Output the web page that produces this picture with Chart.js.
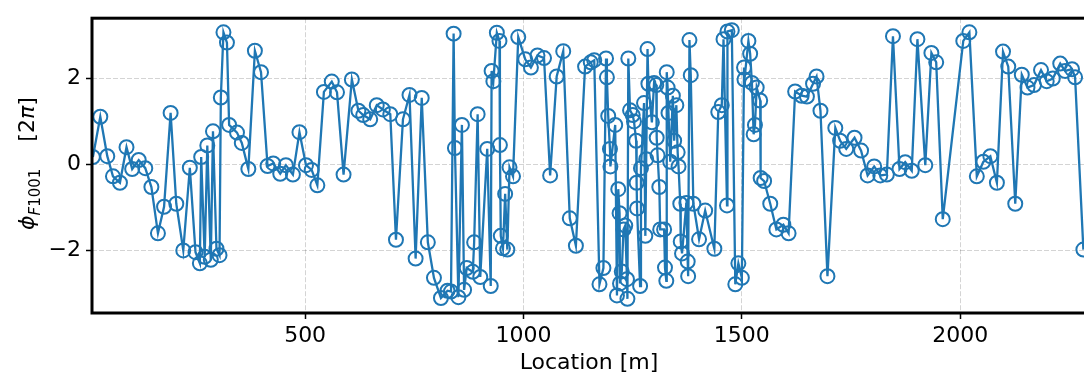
<!DOCTYPE html>
<html>
<head>
<meta charset="utf-8">
<script src="https://cdn.jsdelivr.net/npm/chart.js@4/dist/chart.umd.min.js"></script>
<style>
  html, body { margin: 0; padding: 0; background: #fff; overflow: hidden; }
  #wrap { width: 1100px; height: 376px; }
</style>
</head>
<body>
<div id="wrap"><canvas id="grafico" width="1100" height="376"></canvas></div>
<script>
// location along the line [m]
const locations = [
  14, 31, 47, 60, 76, 91, 104, 119, 134, 148, 163, 177, 192, 205, 221, 236, 249, 259, 262, 270,
  276, 284, 289, 297, 304, 307, 313, 321, 326, 344, 355, 370, 385, 399, 414, 427, 443, 456, 472, 487,
  502, 515, 528, 543, 561, 573, 588, 607, 622, 633, 649, 664, 678, 695, 708, 724, 739, 753, 767, 781,
  795, 811, 826, 834, 840, 843, 851, 859, 864, 870, 884, 887, 895, 901, 917, 925, 927, 931, 939, 945,
  946, 948, 953, 958, 963, 968, 976, 988, 1004, 1017, 1032, 1047, 1061, 1076, 1091, 1106, 1120, 1141, 1154, 1162,
  1174, 1183, 1189, 1191, 1194, 1198, 1199, 1210, 1214, 1217, 1220, 1221, 1225, 1229, 1233, 1237, 1238, 1240, 1244, 1250,
  1253, 1258, 1259, 1260, 1267, 1269, 1276, 1279, 1281, 1284, 1286, 1294, 1299, 1304, 1305, 1307, 1311, 1313, 1322, 1324,
  1327, 1328, 1330, 1332, 1336, 1342, 1345, 1350, 1353, 1355, 1359, 1360, 1363, 1373, 1376, 1377, 1380, 1383, 1389, 1402,
  1416, 1437, 1446, 1454, 1458, 1466, 1467, 1477, 1485, 1492, 1500, 1505, 1506, 1515, 1519, 1523, 1527, 1530, 1534, 1542,
  1543, 1551, 1565, 1579, 1595, 1607, 1622, 1637, 1649, 1663, 1671, 1680, 1696, 1714, 1725, 1739, 1758, 1773, 1788, 1803,
  1817, 1832, 1846, 1861, 1874, 1889, 1902, 1920, 1934, 1945, 1960, 2007, 2021, 2038, 2053, 2069, 2084, 2098, 2110, 2126,
  2141, 2154, 2169, 2185, 2198, 2212, 2229, 2240, 2256, 2263, 2282
];

// phase of f1001 [2pi]
const phases = [
  0.17, 1.11, 0.19, -0.28, -0.43, 0.40, -0.11, 0.10, -0.09, -0.53, -1.61, -0.99, 1.20, -0.92, -2.01, -0.08, -2.05, -2.31, 0.17, -2.16,
  0.44, -2.23, 0.77, -1.97, -2.12, 1.56, 3.08, 2.84, 0.92, 0.74, 0.50, -0.11, 2.65, 2.15, -0.04, 0.02, -0.22, -0.02, -0.24, 0.75,
  -0.02, -0.13, -0.49, 1.69, 1.93, 1.68, -0.24, 1.98, 1.25, 1.15, 1.05, 1.38, 1.28, 1.17, -1.76, 1.05, 1.62, -2.20, 1.55, -1.82,
  -2.65, -3.12, -2.95, -2.97, 3.05, 0.38, -3.10, 0.92, -2.93, -2.42, -2.51, -1.82, 1.17, -2.63, 0.36, -2.84, 2.18, 1.94, 3.07, 2.88,
  0.45, -1.67, -1.96, -0.69, -1.99, -0.07, -0.28, 2.97, 2.45, 2.26, 2.54, 2.48, -0.26, 2.05, 2.64, -1.26, -1.90, 2.28, 2.38, 2.43,
  -2.80, -2.42, 2.47, 2.03, 1.13, 0.36, -0.05, 0.92, -3.06, -0.58, -1.14, -2.78, -2.50, -1.52, -1.43, -2.68, -3.14, 2.47, 1.26, 1.15,
  1.00, 0.55, -0.43, -1.03, -2.84, -0.09, 1.43, -1.67, 0.12, 2.69, 1.88, 0.98, 1.90, 1.85, 0.62, 0.21, -0.53, -1.52, -1.52, -2.41,
  -2.72, 2.15, 1.79, 1.20, 0.06, 1.60, 0.55, 1.38, 0.28, -0.05, -0.92, -1.80, -2.08, -0.90, -2.27, -2.61, 2.90, 2.08, -0.92, -1.75,
  -1.08, -1.97, 1.22, 1.38, 2.92, -0.96, 3.10, 3.13, -2.80, -2.31, -2.65, 2.26, 1.98, 2.88, 2.58, 1.90, 0.70, 0.92, 1.79, 1.49,
  -0.32, -0.39, -0.92, -1.52, -1.41, -1.61, 1.70, 1.60, 1.58, 1.88, 2.05, 1.25, -2.61, 0.85, 0.55, 0.36, 0.62, 0.32, -0.26, -0.05,
  -0.26, -0.24, 2.99, -0.11, 0.05, -0.15, 2.92, -0.02, 2.60, 2.38, -1.28, 2.88, 3.08, -0.28, 0.06, 0.19, -0.43, 2.63, 2.28, -0.92,
  2.09, 1.79, 1.85, 2.20, 1.94, 2.00, 2.35, 2.18, 2.22, 2.03, -1.99
];

const xTicks = [500, 1000, 1500, 2000];
const yTicks = [-2, 0, 2];

const azul = "#1f77b4";
const fuente = '"DejaVu Sans", sans-serif';

const puntos = locations.map((x, i) => ({ x: x, y: phases[i] }));

// black frame around the axes, like matplotlib spines
const marco = {
  id: "marco",
  afterDraw(chart) {
    const { left, top, right, bottom } = chart.chartArea;
    const ctx = chart.ctx;
    ctx.save();
    ctx.strokeStyle = "#000";
    ctx.lineWidth = 3;
    ctx.strokeRect(left, top, right - left, bottom - top);
    ctx.restore();
  }
};

// y label with subscript: phi_{F1001}   [2pi]
const tituloY = {
  id: "tituloY",
  afterDraw(chart) {
    const ctx = chart.ctx;
    const { top, bottom } = chart.chartArea;
    const partes = [
      { t: "ϕ", f: "italic 22px " + fuente, dy: 0 },
      { t: "F", f: "italic 15px " + fuente, dy: 6 },
      { t: "1001", f: "15px " + fuente, dy: 6 },
      { t: "", f: "22px " + fuente, dy: 0, gap: 27 },
      { t: "[2", f: "22px " + fuente, dy: 0 },
      { t: "π", f: "italic 22px " + fuente, dy: 0 },
      { t: "]", f: "22px " + fuente, dy: 0 }
    ];
    ctx.save();
    let total = 0;
    partes.forEach(p => {
      ctx.font = p.f;
      p.w = ctx.measureText(p.t).width + (p.gap || 0);
      total += p.w;
    });
    ctx.translate(34, (top + bottom) / 2 - 2);
    ctx.rotate(-Math.PI / 2);
    ctx.fillStyle = "#000";
    ctx.textBaseline = "alphabetic";
    let x = -total / 2;
    partes.forEach(p => {
      ctx.font = p.f;
      ctx.fillText(p.t, x, p.dy);
      x += p.w;
    });
    ctx.restore();
  }
};

const ctx = document.getElementById("grafico").getContext("2d");
new Chart(ctx, {
  type: "line",
  data: {
    datasets: [{
      data: puntos,
      borderColor: azul,
      borderWidth: 2.3,
      fill: false,
      tension: 0,
      pointRadius: 7,
      pointHoverRadius: 7,
      pointBorderWidth: 2,
      pointBorderColor: azul,
      pointBackgroundColor: "rgba(0,0,0,0)"
    }]
  },
  options: {
    responsive: false,
    animation: false,
    events: [],
    layout: { padding: { left: 0, right: 14, top: 8, bottom: 0 } },
    plugins: { legend: { display: false }, tooltip: { enabled: false } },
    scales: {
      x: {
        type: "linear",
        min: 12,
        max: 2288,
        afterFit: s => { s.height = 63; },
        afterBuildTicks: s => { s.ticks = xTicks.map(v => ({ value: v })); },
        border: { display: false, dash: [5, 2] },
        grid: {
          color: "rgba(0,0,0,0.17)",
          lineWidth: 1,
          drawTicks: true,
          tickLength: 6,
          tickColor: "#000",
          tickWidth: 1.5,
          tickBorderDash: []
        },
        ticks: {
          color: "#000",
          font: { family: fuente, size: 22 },
          padding: 4,
          maxRotation: 0,
          callback: v => String(v)
        },
        title: {
          display: true,
          text: "Location [m]",
          color: "#000",
          font: { family: fuente, size: 22 },
          padding: 0
        }
      },
      y: {
        min: -3.47,
        max: 3.41,
        afterFit: s => { s.width = 92; },
        afterBuildTicks: s => { s.ticks = yTicks.map(v => ({ value: v })); },
        border: { display: false, dash: [5, 2] },
        grid: {
          color: "rgba(0,0,0,0.17)",
          lineWidth: 1,
          drawTicks: true,
          tickLength: 6,
          tickColor: "#000",
          tickWidth: 1.5,
          tickBorderDash: []
        },
        ticks: {
          color: "#000",
          font: { family: fuente, size: 22 },
          padding: 5,
          callback: v => String(v).replace("-", "\u2212")
        }
      }
    }
  },
  plugins: [marco, tituloY]
});
</script>
</body>
</html>
